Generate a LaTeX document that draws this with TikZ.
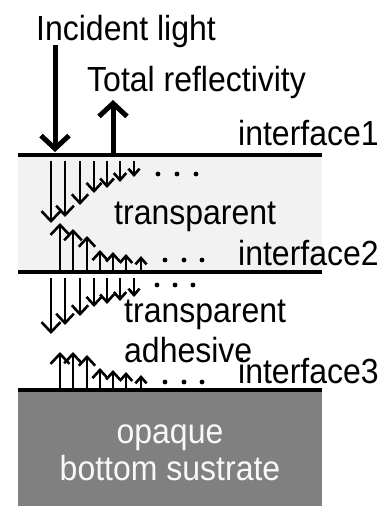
\documentclass[tikz,border=0pt]{standalone}
\usepackage{fontspec}
\setmainfont{Liberation Sans}
\usetikzlibrary{arrows.meta}
\definecolor{layerone}{HTML}{F2F2F2}
\definecolor{substrate}{HTML}{808080}
\definecolor{subtext}{HTML}{F8F8F8}
\newcommand{\tallt}[1]{\scalebox{1}[1.09]{#1}}
\begin{document}
\begin{tikzpicture}[x=1pt,y=-1pt,
  lbl/.style={inner sep=0pt,anchor=base west,font=\fontsize{32}{38}\selectfont},
  sublbl/.style={inner sep=0pt,anchor=base,text=subtext,font=\fontsize{32}{38}\selectfont},
  iface/.style={line width=3.5pt},
  bigarrow/.style={line width=5pt,-{Straight Barb[length=13pt,width=28pt]}},
  dotmark/.style={fill=black,draw=none}]
\useasboundingbox (0,0) rectangle (385,506);
% layers
\fill[layerone] (18,155) rectangle (322,272);
\fill[substrate] (18,390) rectangle (322,506);
\draw[iface] (18,155) -- (322,155);
\draw[iface] (18,272) -- (322,272);
\draw[iface] (18,390) -- (322,390);
% labels
\node[lbl] (inc) at (36,40) {\tallt{Incident light}};
\node[lbl] (tot) at (87,91) {\tallt{Total reflectivity}};
\node[lbl] (if1) at (238,145) {\tallt{interface1}};
\node[lbl] (tr1) at (114,224) {\tallt{transparent}};
\node[lbl] (if2) at (238,265) {\tallt{interface2}};
\node[lbl] (tr2) at (124,322) {\tallt{transparent}};
\node[lbl] (adh) at (124,362) {\tallt{adhesive}};
\node[lbl] (if3) at (238,383) {\tallt{interface3}};
\node[sublbl] (opq) at (170,443) {\tallt{opaque}};
\node[sublbl] (bot) at (170,480) {\tallt{bottom sustrate}};
% big arrows
\coordinate (inA) at (55,45);
\coordinate (inB) at (55,152);
\coordinate (rfA) at (113,153);
\coordinate (rfB) at (113,100);
\draw[bigarrow] (inA) -- (inB);
\draw[bigarrow] (rfA) -- (rfB);
% small arrows
\foreach \x/\ty [count=\i] in {51/223,65/217,80/205,94/193,107/188,120/182,134/177}{
  \pgfmathsetmacro\al{10-0.6*(\i-1)}\pgfmathsetmacro\aw{19-1.3*(\i-1)}
  \draw[line width=2.6pt,-{Straight Barb[length=\al pt,width=\aw pt]}] (\x,161) -- (\x,\ty);}
\foreach \x/\ty [count=\i] in {60/223,73/229,87/236,100/250,113/252,126/254,141/256}{
  \pgfmathsetmacro\al{10-0.6*(\i-1)}\pgfmathsetmacro\aw{19-1.3*(\i-1)}
  \draw[line width=2.6pt,-{Straight Barb[length=\al pt,width=\aw pt]}] (\x,271) -- (\x,\ty);}
\foreach \x/\ty [count=\i] in {51/334,65/325,80/316,94/307,107/304,120/301,134/297}{
  \pgfmathsetmacro\al{10-0.6*(\i-1)}\pgfmathsetmacro\aw{19-1.3*(\i-1)}
  \draw[line width=2.6pt,-{Straight Barb[length=\al pt,width=\aw pt]}] (\x,278) -- (\x,\ty);}
\foreach \x/\ty [count=\i] in {60/352,73/352,87/355,100/368,113/370,126/372,141/375}{
  \pgfmathsetmacro\al{10-0.6*(\i-1)}\pgfmathsetmacro\aw{19-1.3*(\i-1)}
  \draw[line width=2.6pt,-{Straight Barb[length=\al pt,width=\aw pt]}] (\x,389) -- (\x,\ty);}
% dots
\foreach \x in {158,177,196}{\fill[dotmark] (\x,174) circle (2.4);}
\foreach \x in {165,184,202}{\fill[dotmark] (\x,260) circle (2.4);}
\foreach \x in {157,175,193}{\fill[dotmark] (\x,285) circle (2.4);}
\foreach \x in {165,184,202}{\fill[dotmark] (\x,382) circle (2.4);}
\end{tikzpicture}
\end{document}
